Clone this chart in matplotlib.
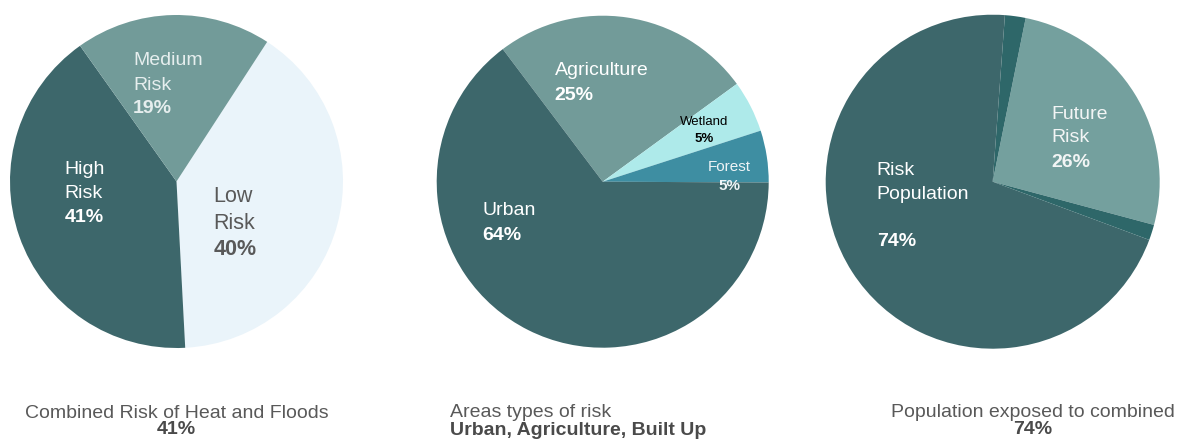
import matplotlib
matplotlib.use("Agg")
import matplotlib.pyplot as plt

plt.rcParams["font.family"] = ["Liberation Sans", "DejaVu Sans"]

W, H = 1179, 447

# ---- data -------------------------------------------------------------
risk_labels = ["Low Risk", "High Risk", "Medium Risk"]
risk_values = [40, 41, 19]

area_labels = ["Agriculture", "Wetland", "Forest", "Urban"]
area_values = [25, 5, 5, 64]

pop_labels = ["Future Risk", "Risk Population"]
pop_values = [26, 74]
# the risk population wedge is drawn as a main part plus two thin bands
pop_parts = [70.5, 2.0, 1.5]

caption_titles = ["Combined Risk of Heat and Floods", "Areas types of risk",
                  "Population exposed to combined"]
caption_values = ["41%", "Urban, Agriculture, Built Up", "74%"]

# ---- style ------------------------------------------------------------
DARK = "#3d676b"
MID = "#729b99"
LIGHT = "#eaf4fa"
WET = "#aeeaea"
FOREST = "#3e8ea2"
FUTURE = "#74a09e"
BAND = "#2e6769"
GREY = "#595959"

fig = plt.figure(figsize=(W / 100, H / 100), dpi=100)
fig.patch.set_facecolor("white")


def pie_axes(cx, cy, r):
    return fig.add_axes([(cx - r) / W, (H - cy - r) / H, 2 * r / W, 2 * r / H])


def finish(ax):
    # pie() resets the limits, so fix them afterwards
    ax.set_xlim(-1, 1)
    ax.set_ylim(-1, 1)
    ax.set_aspect("equal")
    ax.axis("off")


def label(ax, x, lines, color, size, ha="left"):
    for (txt, y, bold) in lines:
        ax.text(x, y, txt, ha=ha, va="baseline", color=color, fontsize=size,
                fontweight="bold" if bold else "normal")


# ---- pie 1: combined risk --------------------------------------------
ax1 = pie_axes(176.5, 181.5, 166.5)
ax1.pie(risk_values, colors=[LIGHT, DARK, MID], startangle=57,
        counterclock=False, radius=1, wedgeprops=dict(linewidth=0))
finish(ax1)
label(ax1, -0.262, [("Medium", 0.697, False), ("Risk", 0.550, False),
                    (f"{risk_values[2]}%", 0.411, True)], "#e6eeee", 14)
label(ax1, -0.672, [("High", 0.045, False), ("Risk", -0.099, False),
                    (f"{risk_values[1]}%", -0.246, True)], "white", 14)
label(ax1, 0.222, [("Low", -0.126, False), ("Risk", -0.285, False),
                   (f"{risk_values[0]}%", -0.441, True)], GREY, 15.5)

# ---- pie 2: area types -----------------------------------------------
ax2 = pie_axes(602.7, 181.7, 166)
ax2.pie(area_values, colors=[MID, WET, FOREST, DARK], startangle=127,
        counterclock=False, radius=1, wedgeprops=dict(linewidth=0))
finish(ax2)
label(ax2, -0.290, [(area_labels[0], 0.643, False),
                    (f"{area_values[0]}%", 0.492, True)], "white", 14)
label(ax2, 0.613, [(area_labels[1], 0.342, False),
                   (f"{area_values[1]}%", 0.239, True)], "black", 9.5, ha="center")
label(ax2, 0.761, [(area_labels[2], 0.067, False),
                   (f"{area_values[2]}%", -0.047, True)], "#eef4f6", 11, ha="center")
label(ax2, -0.723, [(area_labels[3], -0.201, False),
                    (f"{area_values[3]}%", -0.351, True)], "white", 14)

# ---- pie 3: exposed population ---------------------------------------
ax3 = pie_axes(992.7, 181.7, 167)
ax3.pie([pop_values[0], pop_parts[1], pop_parts[0], pop_parts[2]],
        colors=[FUTURE, BAND, DARK, BAND], startangle=-15,
        counterclock=True, radius=1, wedgeprops=dict(linewidth=0))
finish(ax3)
label(ax3, 0.353, [("Future", 0.375, False), ("Risk", 0.238, False),
                   (f"{pop_values[0]}%", 0.088, True)], "#f2f5f5", 14)
label(ax3, -0.695, [("Risk", 0.040, False), ("Population", -0.104, False),
                    (f"{pop_values[1]}%", -0.385, True)], "white", 14)


# ---- captions ---------------------------------------------------------
def fig_text(x, y, txt, bold, ha):
    fig.text(x / W, 1 - y / H, txt, ha=ha, va="baseline", fontsize=14,
             color="#4a4a4a" if bold else GREY,
             fontweight="bold" if bold else "normal")


fig_text(176.5, 417.5, caption_titles[0], False, "center")
fig_text(176.5, 434, caption_values[0], True, "center")
fig_text(450.5, 417, caption_titles[1], False, "left")
fig_text(450.5, 435, caption_values[1], True, "left")
fig_text(1033, 417, caption_titles[2], False, "center")
fig_text(1033, 434, caption_values[2], True, "center")

fig.savefig("out.png", dpi=100, facecolor="white")
